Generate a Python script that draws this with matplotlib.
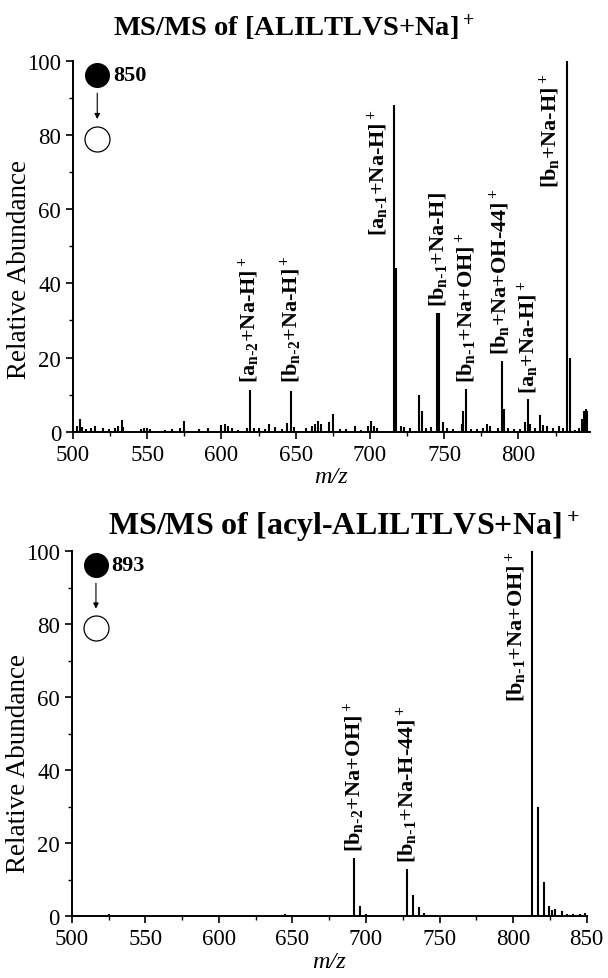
import matplotlib
matplotlib.use("Agg")
import matplotlib.pyplot as plt
from matplotlib.ticker import MultipleLocator

plt.rcParams['font.family'] = ['Liberation Serif', 'DejaVu Serif']
plt.rcParams['mathtext.default'] = 'regular'

# --- top spectrum: MS/MS of [ALILTLVS+Na]+ (m/z, relative abundance) ---
top_mz = [502.5, 504.5, 506, 509, 512, 514.7, 520, 524, 528, 530.5, 532.7, 534,
          546, 548, 550, 552, 562, 567, 572, 575, 585, 591, 600, 602.7, 604.5, 607,
          611, 617, 619, 622, 625, 629, 632, 636, 641, 644.4, 646.8, 649, 656.8,
          661, 663, 665, 667, 672.6, 675.4, 680, 684, 689.6, 694, 698.6, 700.9,
          702.5, 705, 716.5, 717.5, 721, 723, 727, 732.9, 734.7, 738, 741,
          744.8, 746.5, 749.4, 752, 756, 761.8, 762.9, 764.5, 768, 772, 776,
          778.7, 780.5, 786, 788.9, 790, 793, 797, 801, 804.7, 806.5, 808, 811,
          814.8, 816.6, 819.3, 823, 827.2, 830, 832.9, 834.7, 838, 841, 843,
          844.2, 845.3, 846.4]
top_int = [1.5, 3.4, 1.2, 0.8, 1.0, 1.5, 1.0, 0.6, 1.0, 1.5, 3.1, 1.4,
           0.8, 1.0, 1.1, 0.6, 0.5, 0.6, 0.9, 2.9, 0.6, 1.0, 1.8, 2.0, 1.5, 1.0,
           0.5, 1.0, 11.2, 1.0, 1.0, 0.6, 2.0, 1.4, 0.7, 2.3, 11.0, 1.4, 1.0,
           1.5, 2.0, 2.8, 2.0, 2.5, 4.8, 0.6, 0.6, 1.5, 0.5, 1.5, 2.9,
           1.5, 1.0, 88.0, 44.0, 1.5, 1.2, 1.0, 10.0, 5.5, 1.0, 1.2,
           32.0, 32.0, 2.5, 1.0, 0.8, 2.0, 5.5, 11.6, 0.7, 0.7, 1.0,
           2.0, 1.5, 1.0, 19.0, 6.0, 1.0, 0.8, 0.8, 2.5, 8.7, 2.0, 1.0,
           4.6, 1.8, 1.5, 1.0, 1.5, 1.0, 100.0, 20.0, 0.5, 1.0, 3.5,
           5.5, 6.0, 5.5]

# --- bottom spectrum: MS/MS of [acyl-ALILTLVS+Na]+ ---
bot_mz = [509, 525, 610, 645, 691.7, 695.8, 700, 728, 732, 736, 739.5, 745,
          812.9, 816.6, 820.7, 824.5, 826.5, 828.3, 832.9, 836.3, 840.8,
          845.4, 848.7]
bot_int = [0.4, 0.6, 0.4, 0.6, 16.0, 2.7, 0.5, 13.0, 5.8, 2.5, 1.0, 0.4,
           100.0, 30.0, 9.4, 2.7, 1.8, 2.0, 1.5, 0.7, 0.5, 0.6, 1.0]

# fragment labels: text, label m/z, label base height
top_labels = [r'[a$_{n\text{-}2}$+Na-H]$^+$', r'[b$_{n\text{-}2}$+Na-H]$^+$',
              r'[a$_{n\text{-}1}$+Na-H]$^+$', r'[b$_{n\text{-}1}$+Na-H]',
              r'[b$_{n\text{-}1}$+Na+OH]$^+$', r'[b$_{n}$+Na+OH-44]$^+$',
              r'[a$_{n}$+Na-H]$^+$', r'[b$_{n}$+Na-H]$^+$']
top_label_mz = [619, 646.8, 705.5, 745.6, 764.5, 788, 806.5, 821.5]
top_label_y = [13.5, 13.5, 53, 34, 13.5, 21, 10.5, 66]

bot_labels = [r'[b$_{n\text{-}2}$+Na+OH]$^+$', r'[b$_{n\text{-}1}$+Na-H-44]$^+$',
              r'[b$_{n\text{-}1}$+Na+OH]$^+$']
bot_label_mz = [691.7, 728, 802]
bot_label_y = [18, 15, 59]


def draw_panel(ax, mz, inten, labels, label_mz, label_y, precursor, xmax, xticks,
               ylab_y):
    ax.vlines(mz, 0, inten, colors='black', linewidth=1.5)
    ax.set_xlim(500, xmax)
    ax.set_ylim(0, 100)
    ax.xaxis.set_major_locator(MultipleLocator(50))
    ax.xaxis.set_minor_locator(MultipleLocator(25))
    ax.yaxis.set_major_locator(MultipleLocator(20))
    ax.yaxis.set_minor_locator(MultipleLocator(10))
    ax.set_xticks(xticks)
    ax.tick_params(which='major', direction='out', length=5, width=1.2, labelsize=16.5)
    ax.tick_params(which='minor', direction='out', length=3, width=1.0)
    for side in ['top', 'right']:
        ax.spines[side].set_visible(False)
    for side in ['left', 'bottom']:
        ax.spines[side].set_linewidth(1.4)
    ax.set_xlabel('m/z', fontsize=17.5, fontstyle='italic', labelpad=1)
    ax.set_ylabel('Relative Abundance', fontsize=19.5)
    ax.yaxis.set_label_coords(-0.079, ylab_y)

    for txt, x, y in zip(labels, label_mz, label_y):
        ax.text(x, y, txt, rotation=90, ha='center', va='bottom',
                fontsize=16, fontweight='bold')

    # precursor -> product symbol
    ax.plot([0.047], [0.962], 'o', color='black', markersize=17,
            transform=ax.transAxes, clip_on=False)
    ax.plot([0.047], [0.79], 'o', markerfacecolor='white', markeredgecolor='black',
            markeredgewidth=0.9, markersize=18, transform=ax.transAxes, clip_on=False)
    ax.annotate('', xy=(0.047, 0.835), xytext=(0.047, 0.92),
                xycoords='axes fraction',
                arrowprops=dict(arrowstyle='-|>', color='black', lw=0.8,
                                mutation_scale=8))
    ax.text(0.077, 0.962, precursor, transform=ax.transAxes, ha='left',
            va='center', fontsize=16, fontweight='bold')


fig = plt.figure(figsize=(6.08, 9.79), dpi=100)

ax1 = fig.add_axes([0.120, 0.558, 0.850, 0.379])
draw_panel(ax1, top_mz, top_int, top_labels, top_label_mz, top_label_y, '850',
           848, [500, 550, 600, 650, 700, 750, 800], 0.44)

ax2 = fig.add_axes([0.118, 0.063, 0.847, 0.373])
draw_panel(ax2, bot_mz, bot_int, bot_labels, bot_label_mz, bot_label_y, '893',
           850, [500, 550, 600, 650, 700, 750, 800, 850], 0.42)

fig.text(0.186, 0.972, r'MS/MS of [ALILTLVS+Na]$^+$', ha='left', va='center',
         fontsize=20.5, fontweight='bold')
fig.text(0.178, 0.462, r'MS/MS of [acyl-ALILTLVS+Na]$^+$', ha='left', va='center',
         fontsize=23, fontweight='bold')

fig.savefig('out.png', dpi=100)
